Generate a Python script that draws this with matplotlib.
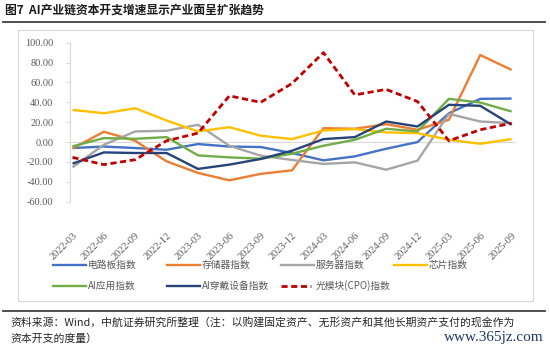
import matplotlib.pyplot as plt
from matplotlib.lines import Line2D
from matplotlib.patches import Rectangle

plt.rcParams['font.family'] = ['Noto Sans CJK SC', 'DejaVu Sans']

dates = ['2022-03', '2022-06', '2022-09', '2022-12', '2023-03', '2023-06', '2023-09',
         '2023-12', '2024-03', '2024-06', '2024-09', '2024-12', '2025-03', '2025-06', '2025-09']

pcb = [-6, -4.5, -6, -7.7, -2, -4.5, -5, -11, -18.4, -14.4, -6.7, 0, 29, 43.5, 43.8]
memory = [-6.5, 10.4, 1.3, -19.4, -31, -38.5, -32, -28.4, 14, 13.4, 18, 12.4, 22.4, 87.6, 72.6]
server = [-25.4, -2.7, 10.7, 11.4, 17.4, -3.7, -13.7, -18, -22, -20.4, -27.8, -18.7, 28.4, 20.7, 19]
chip = [32.4, 29, 34, 21.7, 10.7, 15, 6.4, 3, 11.7, 13, 9.7, 9, 2.3, -1.7, 3]
ai_app = [-4.3, 4, 3.3, 5, -13.4, -15.4, -16.7, -11.7, -3.7, 2.3, 13.4, 10.7, 43.5, 39.8, 30.8]
ai_wear = [-21.7, -10.4, -11, -11, -27, -22.7, -17, -8.7, 3, 5, 20.7, 15.7, 37.5, 36.5, 17.4]
cpo = [-15.4, -22.7, -17.7, 1.3, 9, 46.5, 40, 59, 90, 47.5, 53, 40.8, 1.3, 12.4, 19]

series = [
    ('电路板指数', pcb, '#4472C4', '-'),
    ('存储器指数', memory, '#ED7D31', '-'),
    ('服务器指数', server, '#A5A5A5', '-'),
    ('芯片指数', chip, '#FFC000', '-'),
    ('AI应用指数', ai_app, '#70AD47', '-'),
    ('AI穿戴设备指数', ai_wear, '#264478', '-'),
    ('光模块(CPO)指数', cpo, '#C00000', '--'),
]

W, H = 550, 352
fig = plt.figure(figsize=(W / 100, H / 100), dpi=100)


def fx(px):
    return px / W


def fy(py):
    return 1 - py / H


# frame, rules
fig.add_artist(Rectangle((fx(18.3), fy(300.7)), fx(532.7) - fx(18.3), fy(30) - fy(300.7),
                         transform=fig.transFigure, fill=False, ec='#D9D9D9', lw=0.8))
for yy in (22.3, 310.7):
    fig.add_artist(Line2D([fx(3), fx(545)], [fy(yy), fy(yy)], transform=fig.transFigure,
                          color='#404040', lw=1.3))

fig.text(fx(5), fy(10.5), '图7  AI产业链资本开支增速显示产业面呈扩张趋势', fontsize=8.5,
         fontweight='bold', va='center', ha='left', color='#1a1a1a')
fig.text(fx(10), fy(321.7),
         '资料来源：Wind，中航证券研究所整理（注：以购建固定资产、无形资产和其他长期资产支付的现金作为',
         fontsize=7.8, va='center', ha='left', color='#262626')
fig.text(fx(10), fy(338.5), '资本开支的度量）', fontsize=7.8, va='center', ha='left', color='#262626')
fig.text(fx(544), fy(337), 'www.365jz.com', fontsize=11, va='center', ha='right',
         color='#1F3864', family='Liberation Serif')

ax = fig.add_axes([fx(70), fy(201.7), fx(516) - fx(70), fy(42.7) - fy(201.7)])
x = list(range(len(dates)))
for name, vals, col, ls in series:
    if ls == '--':
        ax.plot(x, vals, color=col, lw=2.0, ls=(0, (2.2, 1.3)), label=name, zorder=3)
    else:
        ax.plot(x, vals, color=col, lw=1.7, label=name, solid_capstyle='butt')

ax.axhline(0, color='#D9D9D9', lw=0.8, zorder=0)
ax.set_xlim(-0.08, len(dates) - 1 + 0.14)
ax.set_ylim(-60, 100)
ax.set_yticks(range(-60, 101, 20))
ax.set_yticklabels([f'{v:.2f}' for v in range(-60, 101, 20)], family='Liberation Serif',
                   fontsize=7.4, color='#595959')
ax.set_xticks(x)
ax.set_xticklabels(dates, rotation=45, ha='right', va='top', rotation_mode='anchor',
                   family='Liberation Serif', fontsize=7.4, color='#595959')
ax.tick_params(axis='x', length=0, pad=21)
ax.tick_params(axis='y', length=3, color='#D9D9D9', width=0.8, pad=9)
for s in ('top', 'right', 'bottom'):
    ax.spines[s].set_visible(False)
ax.spines['left'].set_color('#D9D9D9')
ax.spines['left'].set_linewidth(0.8)
ax.set_facecolor('none')

# legend, laid out like the original (equal-width columns)
col_x = [53, 166.5, 281, 394]
row_y = [265, 286]
for i, (name, vals, col, ls) in enumerate(series):
    r, c = divmod(i, 4)
    x0 = col_x[c]
    y0 = row_y[r]
    if ls == '--':
        fig.add_artist(Line2D([fx(x0), fx(x0 + 30)], [fy(y0), fy(y0)], transform=fig.transFigure,
                              color=col, lw=2.0, ls=(0, (2.2, 1.3))))
    else:
        fig.add_artist(Line2D([fx(x0), fx(x0 + 33)], [fy(y0), fy(y0)], transform=fig.transFigure,
                              color=col, lw=1.7))
    fig.text(fx(x0 + 35), fy(y0), name, fontsize=7, va='center', ha='left', color='#595959')

fig.savefig('out.png', dpi=100)
